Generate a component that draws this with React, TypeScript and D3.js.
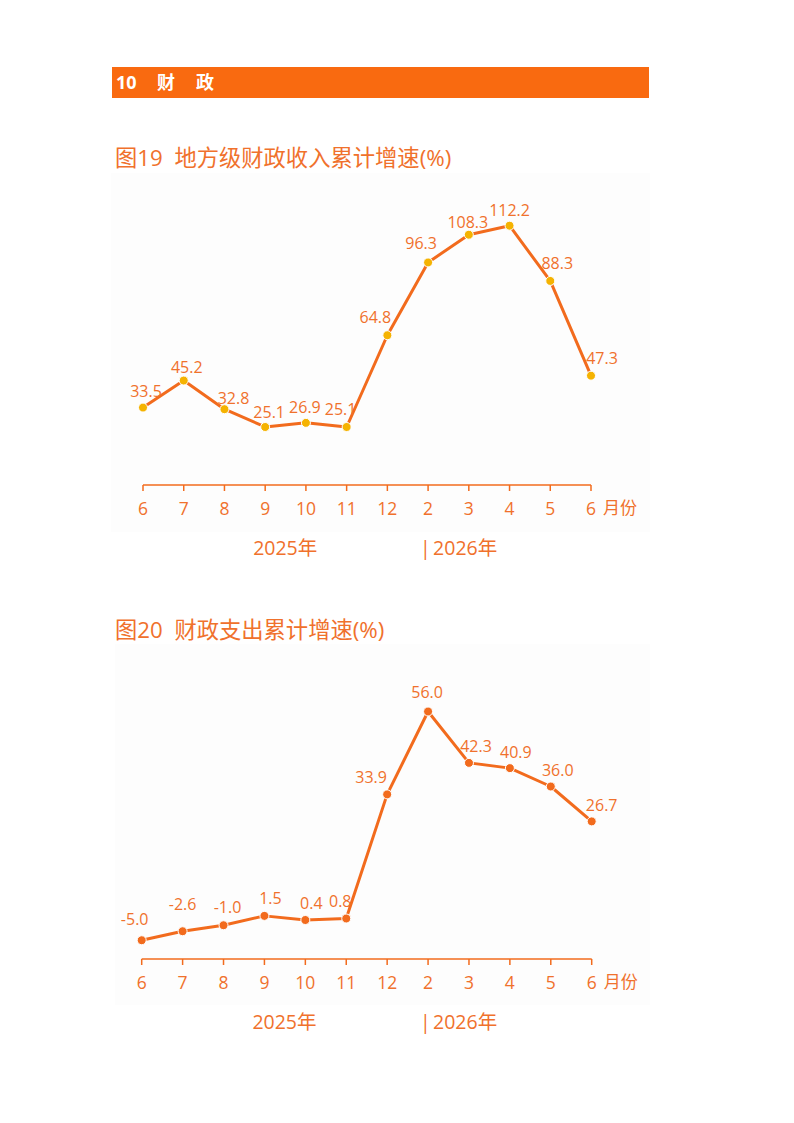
import * as d3 from "d3";

// x categories (months, Jun 2025 – Jun 2026)
const months = ["6", "7", "8", "9", "10", "11", "12", "2", "3", "4", "5", "6"];

// 图19 地方级财政收入累计增速(%)
const revenueGrowth = [33.5, 45.2, 32.8, 25.1, 26.9, 25.1, 64.8, 96.3, 108.3, 112.2, 88.3, 47.3];

// 图20 财政支出累计增速(%)
const spendingGrowth = [-5.0, -2.6, -1.0, 1.5, 0.4, 0.8, 33.9, 56.0, 42.3, 40.9, 36.0, 26.7];

const ORANGE = "#f26b1d";
const TEXT = "#f0712c";
const GOLD = "#f5b301";
const FONT = "'Open Sans', 'Noto Sans CJK SC', sans-serif";
const CJK = "'Noto Sans CJK SC', sans-serif";

// small per-label nudges so labels sit as in the original
const revNudge = [
  [3, -16], [3, -13], [9, -11], [4, -14], [-1, -15], [-6, -17],
  [-12, -18], [-7, -19], [-1, -12], [0, -15], [7, -17], [11, -17],
];
const spendNudge = [
  [-7, -21], [0, -27], [4, -18], [6, -17], [6, -17], [-6, -17],
  [-16, -17], [-1, -19], [7, -16], [6, -16], [7, -16], [10, -16],
];

interface LineChartProps {
  values: number[];
  nudge: number[][];
  yDomain: [number, number];
  yRange: [number, number];
  xRange: [number, number];
  markerColor: string;
  bg: [number, number, number, number];
}

function LineChart({ values, nudge, yDomain, yRange, xRange, markerColor, bg }: LineChartProps) {
  const x = d3.scalePoint<number>().domain(d3.range(months.length)).range(xRange);
  const y = d3.scaleLinear().domain(yDomain).range(yRange);
  const axisY = yRange[0];

  const line = d3
    .line<number>()
    .x((_, i) => x(i)!)
    .y((d) => y(d));

  const lastX = x(months.length - 1)!;

  return (
    <g>
      <rect x={bg[0]} y={bg[1]} width={bg[2] - bg[0]} height={bg[3] - bg[1]} fill="#fdfdfd" />

      {/* x axis */}
      <line x1={xRange[0]} x2={xRange[1]} y1={axisY} y2={axisY} stroke={ORANGE} strokeWidth={1.5} />
      {months.map((m, i) => (
        <g key={i}>
          <line x1={x(i)} x2={x(i)} y1={axisY} y2={axisY + 6} stroke={ORANGE} strokeWidth={1.5} />
          <text
            x={x(i)}
            y={axisY + 30}
            textAnchor="middle"
            fontSize={17.5}
            fill={TEXT}
            fontFamily={FONT}
          >
            {m}
          </text>
        </g>
      ))}
      <text x={lastX + 12} y={axisY + 29} fontSize={17} fill={TEXT} fontFamily={CJK}>
        月份
      </text>
      <text x={x(3)! - 12} y={axisY + 70} fontSize={19.5} fill={TEXT} fontFamily={FONT}>
        2025年
      </text>
      <text x={x(7)! - 8} y={axisY + 70} fontSize={19.5} fill={TEXT} fontFamily={FONT}>
        |
      </text>
      <text x={x(7)! + 5} y={axisY + 70} fontSize={19.5} fill={TEXT} fontFamily={FONT}>
        2026年
      </text>

      {/* series */}
      <path d={line(values)!} fill="none" stroke={ORANGE} strokeWidth={3} strokeLinejoin="round" />
      {values.map((v, i) => (
        <circle key={i} cx={x(i)} cy={y(v)} r={4.5} fill={markerColor} stroke="#fff" strokeWidth={1} />
      ))}
      {values.map((v, i) => (
        <text
          key={i}
          x={x(i)! + nudge[i][0]}
          y={y(v) + nudge[i][1] + 5.5}
          textAnchor="middle"
          fontSize={16}
          fill={TEXT}
          fontFamily={FONT}
        >
          {v.toFixed(1)}
        </text>
      ))}
    </g>
  );
}

export default function App() {
  return (
    <svg
      width={794}
      height={1123}
      style={{ position: "absolute", left: 0, top: 0, background: "#fff" }}
    >
      {/* section header */}
      <rect x={112} y={67} width={537} height={31} fill="#f96a10" />
      <text x={116} y={89} fontSize={18} fontWeight="bold" fill="#fff" fontFamily={FONT}>
        10
      </text>
      <text x={157} y={89} fontSize={18} fontWeight="bold" fill="#fff" fontFamily={CJK}>
        财
      </text>
      <text x={196} y={89} fontSize={18} fontWeight="bold" fill="#fff" fontFamily={CJK}>
        政
      </text>

      <text x={115} y={166} fontSize={22.3} fill={TEXT} fontFamily={FONT} style={{ whiteSpace: "pre" }}>
        {"图19  地方级财政收入累计增速(%)"}
      </text>
      <LineChart
        values={revenueGrowth}
        nudge={revNudge}
        yDomain={[0, 135]}
        yRange={[485, 173]}
        xRange={[143, 591]}
        markerColor={GOLD}
        bg={[111, 173, 650, 532]}
      />

      <text x={115} y={638} fontSize={22.3} fill={TEXT} fontFamily={FONT} style={{ whiteSpace: "pre" }}>
        {"图20  财政支出累计增速(%)"}
      </text>
      <LineChart
        values={spendingGrowth}
        nudge={spendNudge}
        yDomain={[-10, 74]}
        yRange={[959, 644]}
        xRange={[141.7, 591.7]}
        markerColor={ORANGE}
        bg={[115, 644, 650, 1005]}
      />
    </svg>
  );
}
